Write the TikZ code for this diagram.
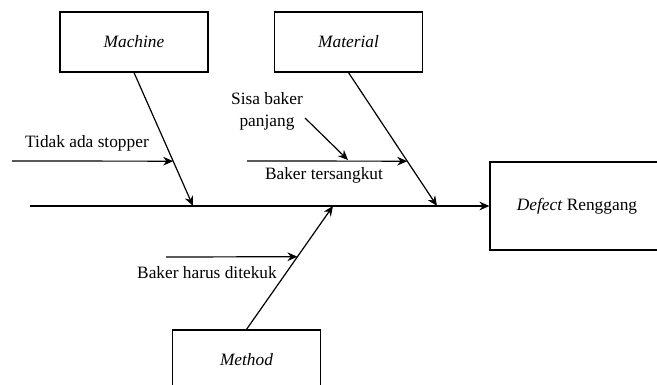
\documentclass[tikz,border=0pt]{standalone}
\usepackage{fontspec}
\setmainfont{Liberation Serif}
\usetikzlibrary{arrows.meta,calc}
\begin{document}
\begin{tikzpicture}[x=0.75pt,y=-0.75pt,
  bone/.style={line width=0.9pt},
  arr/.style={bone,-{Stealth[length=7.5pt,width=6.5pt]}},
  catbox/.style={draw,line width=0.9pt,minimum width=111pt,minimum height=45pt,
                 inner sep=0pt,font=\fontsize{13}{15}\selectfont\itshape},
  effbox/.style={draw,line width=0.9pt,minimum width=130.5pt,minimum height=66pt,
                 inner sep=0pt,font=\fontsize{13}{15}\selectfont},
  lbl/.style={inner sep=0pt,font=\fontsize{13}{16.5}\selectfont,align=center}]
\useasboundingbox (0,0) rectangle (657,385);
\clip (0,0) rectangle (657,385);

% category boxes and effect
\node[catbox] (Machine)  at (134,42)    {Machine};
\node[catbox] (Material) at (348.5,42)  {Material};
\node[catbox] (Method)   at (246.5,360) {Method};
\node[effbox] (Effect)   at (577,206)   {\textit{Defect} Renggang};

% spine
\coordinate (tail) at (30,206);
\coordinate (m1) at (193,206);
\coordinate (m2) at (437,206);
\coordinate (m3) at (333,206);
\draw[arr] (tail) -- (Effect.west);

% main bones
\draw[arr] (Machine.south) -- (m1);
\draw[arr] (Material.south) -- (m2);
\draw[arr] (Method.north) -- (m3);

% sub-cause attachment points
\coordinate (t1) at ($(Machine.south)!0.664!(m1)$);
\coordinate (t2) at ($(Material.south)!0.664!(m2)$);
\coordinate (t3) at ($(Method.north)!0.589!(m3)$);
\coordinate (f1) at (12,161);
\coordinate (f2) at (247,161);
\coordinate (f3) at (166,257);
\coordinate (f4) at (305,118);
\coordinate (t4) at (348,160);

\draw[arr] (f1) -- (t1);
\draw[arr] (f2) -- (t2);
\draw[arr] (f3) -- (t3);
\draw[arr] (f4) -- (t4);

% sub-cause labels
\node[lbl] (l1) at (87,143)   {Tidak ada stopper};
\node[lbl] (l2) at (267,111)  {Sisa baker\\panjang};
\node[lbl] (l3) at (324,175)  {Baker tersangkut};
\node[lbl] (l4) at (207,273)  {Baker harus ditekuk};
\end{tikzpicture}
\end{document}
